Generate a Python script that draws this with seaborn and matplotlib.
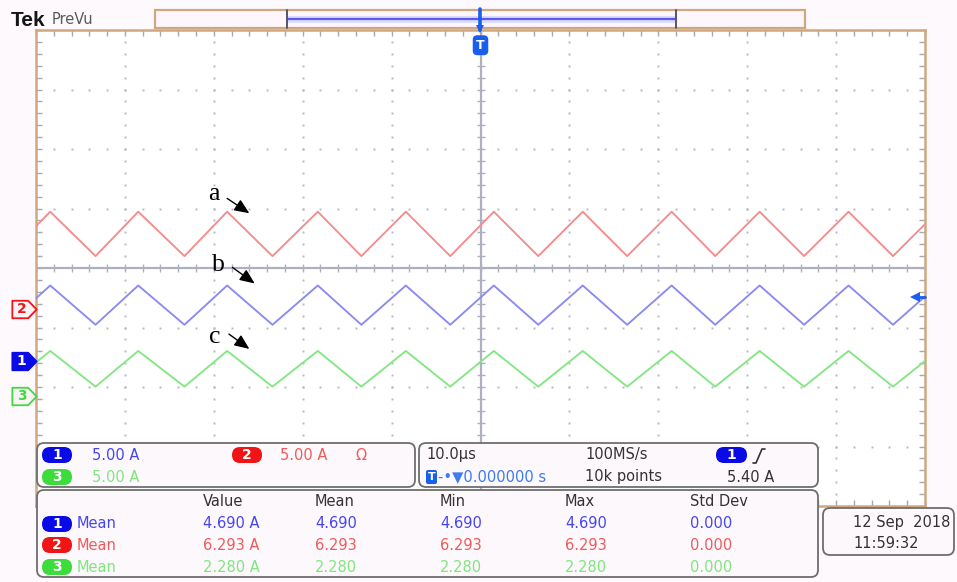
import numpy as np
import pandas as pd
import matplotlib
matplotlib.use("Agg")
import matplotlib.pyplot as plt
from matplotlib.patches import FancyBboxPatch, Rectangle
from matplotlib.path import Path
from matplotlib.markers import MarkerStyle
from matplotlib.lines import Line2D
from matplotlib.transforms import Affine2D
import seaborn as sns

# ---- captured waveforms: corner points of the triangular currents ----
t_vertex_us = [-53.3, -48.4, -43.3, -38.5, -33.3, -28.5, -23.4, -18.3, -13.4, -8.4, -3.4,
               1.5, 6.5, 11.5, 16.5, 21.5, 26.4, 31.4, 36.4, 41.4, 46.4, 51.4]
ch1_amps = [3.03, 6.33, 3.03, 6.33, 3.03, 6.33, 3.03, 6.33, 3.03, 6.33, 3.03,
            6.33, 3.03, 6.33, 3.03, 6.33, 3.03, 6.33, 3.03, 6.33, 3.03, 6.33]
ch2_amps = [4.45, 8.18, 4.45, 8.18, 4.45, 8.18, 4.45, 8.18, 4.45, 8.18, 4.45,
            8.18, 4.45, 8.18, 4.45, 8.18, 4.45, 8.18, 4.45, 8.18, 4.45, 8.18]
ch3_amps = [0.78, 3.78, 0.78, 3.78, 0.78, 3.78, 0.78, 3.78, 0.78, 3.78, 0.78,
            3.78, 0.78, 3.78, 0.78, 3.78, 0.78, 3.78, 0.78, 3.78, 0.78, 3.78]

# ---- vertical / horizontal settings ----
channels = ["1", "2", "3"]
ch_offset_div = [-1.56, -0.69, -2.15]      # ground marker positions
amps_per_div = [5.0, 5.0, 5.0]
scale_labels = ["5.00 A", "5.00 A", "5.00 A"]
time_per_div_label = "10.0\u00b5s"
sample_rate_label = "100MS/s"
record_label = "10k points"
trigger_pos_label = "0.000000 s"
trigger_level_amps = 5.40
trigger_level_label = "5.40 A"

# ---- measurement table ----
meas_headers = ["Value", "Mean", "Min", "Max", "Std Dev"]
meas_value = ["4.690 A", "6.293 A", "2.280 A"]
meas_mean = ["4.690", "6.293", "2.280"]
meas_min = ["4.690", "6.293", "2.280"]
meas_max = ["4.690", "6.293", "2.280"]
meas_std = ["0.000", "0.000", "0.000"]
date_label = "12 Sep  2018"
time_label = "11:59:32"

# ---- colours ----
trace_col = {"1": "#8a8af2", "2": "#f48c8c", "3": "#84e684"}
text_col = {"1": "#4646f0", "2": "#f05a5a", "3": "#7ee67e"}
pill_col = {"1": "#0a0ae6", "2": "#f01414", "3": "#3cdc3c"}
tek_blue = "#1a5ef0"
frame_col = "#cfa882"
grid_col = "#b8b8c0"
center_col = "#aeb0c2"
box_edge = "#6e6e6e"
box_fill = "#fdf8fc"
dark_txt = "#333333"

W, H = 957, 582
sns.set_theme(style="white")
plt.rcParams["font.family"] = ["DejaVu Sans"]

fig = plt.figure(figsize=(W / 100, H / 100), dpi=100, facecolor="#fdf9fc")
# pixel coordinates measured from the top-left corner of the figure
PX = Affine2D().scale(1 / W, -1 / H).translate(0, 1) + fig.transFigure

ax = fig.add_axes([36 / W, 1 - 506 / H, 889 / W, 476 / H])
ax.set_facecolor("white")

# ---- traces ----
frames = []
for ch, amps, off, apd in zip(channels, [ch1_amps, ch2_amps, ch3_amps], ch_offset_div, amps_per_div):
    frames.append(pd.DataFrame({
        "t": t_vertex_us,
        "level": [off + a / apd for a in amps],
        "channel": ch,
    }))
df = pd.concat(frames, ignore_index=True)
sns.lineplot(data=df, x="t", y="level", hue="channel", palette=trace_col,
             estimator=None, sort=False, legend=False, lw=1.35, ax=ax, zorder=5)

ax.set_xlim(-50, 50)
ax.set_ylim(-4, 4)
ax.set_xlabel("")
ax.set_ylabel("")

# ---- graticule ----
ax.set_xticks(np.arange(-50, 50.01, 2))
ax.set_yticks(np.arange(-4, 4.001, 0.2))
ax.tick_params(which="both", direction="in", length=4, width=1, color="#a8a8b0",
               top=True, right=True, bottom=True, left=True,
               labelbottom=False, labelleft=False)
for s in ax.spines.values():
    s.set_color(frame_col)
    s.set_linewidth(1.8)

gx, gy = [], []
for xd in np.arange(-40, 41, 10):
    if xd == 0:
        continue
    ys = np.arange(-4, 4.001, 0.2)
    gx.extend([xd] * len(ys))
    gy.extend(ys)
for yd in np.arange(-3, 4, 1):
    if yd == 0:
        continue
    xs = np.arange(-50, 50.01, 2)
    gx.extend(xs)
    gy.extend([yd] * len(xs))
ax.plot(gx, gy, ls="none", marker="s", ms=1.4, mew=0, color=grid_col, zorder=1)

ax.axhline(0, color=center_col, lw=1.6, zorder=2)
ax.axvline(0, color=center_col, lw=1.6, zorder=2)
cx = np.arange(-50, 50.01, 2)
ax.plot(cx, np.zeros_like(cx), ls="none", marker="|", ms=6, mew=1, color=center_col, zorder=2)
cy = np.arange(-4, 4.001, 0.2)
ax.plot(np.zeros_like(cy), cy, ls="none", marker="_", ms=6, mew=1, color=center_col, zorder=2)

# ---- trace labels ----
for lab, txt_xy, tail, head in [("a", (-30.0, 1.24), (-28.5, 1.17), (-26.0, 0.92)),
                                ("b", (-29.5, 0.05), (-27.9, 0.01), (-25.4, -0.26)),
                                ("c", (-29.9, -1.16), (-28.3, -1.11), (-26.0, -1.36))]:
    ax.text(*txt_xy, lab, family=["Liberation Serif", "DejaVu Serif"], fontsize=18.5,
            ha="center", va="center", color="black", zorder=7)
    ax.annotate("", xy=head, xytext=tail,
                arrowprops=dict(arrowstyle="-|>,head_length=0.75,head_width=0.32", color="black",
                                lw=1.0, mutation_scale=12, shrinkA=0, shrinkB=0), zorder=7)

# ---- ground markers on the left edge ----
penta = Path([(-1, -0.72), (0.3, -0.72), (1, 0), (0.3, 0.72), (-1, 0.72), (-1, -0.72)],
             [Path.MOVETO, Path.LINETO, Path.LINETO, Path.LINETO, Path.LINETO, Path.CLOSEPOLY])
ytr = ax.get_yaxis_transform()
for ch, off in zip(channels, ch_offset_div):
    filled = ch == "1"
    ax.plot([-0.0135], [off], marker=MarkerStyle(penta), ms=17.5, ls="none",
            mfc=pill_col[ch] if filled else "#fbf3f7", mec=pill_col[ch], mew=1.3,
            transform=ytr, clip_on=False, zorder=8)
    ax.text(-0.016, off, ch, transform=ytr, ha="center", va="center", fontsize=10,
            weight="bold", color="white" if filled else pill_col[ch], clip_on=False, zorder=9)

# trigger level arrow on the right edge
trig_y = ch_offset_div[0] + trigger_level_amps / amps_per_div[0]
ax.plot([0.9885, 1.0], [trig_y, trig_y], color=tek_blue, lw=2, transform=ytr, clip_on=False, zorder=8)
ax.plot([0.9885], [trig_y], marker="<", ms=7, color=tek_blue, mew=0, transform=ytr,
        clip_on=False, zorder=8)

# trigger position marker at the top
xtr = ax.get_xaxis_transform()
ax.text(0, 0.968, "T", transform=xtr, ha="center", va="center", fontsize=9, weight="bold",
        color="white", zorder=8,
        bbox=dict(boxstyle="round,pad=0.22,rounding_size=0.3", fc=tek_blue, ec=tek_blue))

# ---- top bar ----
fig.text(11, 20, "Tek", transform=PX, fontsize=15, weight="bold", color="#151515",
         ha="left", va="center", family=["Liberation Sans", "DejaVu Sans"])
fig.text(52, 20, "PreVu", transform=PX, fontsize=10.5, color="#5a5a5a", ha="left", va="center")
fig.add_artist(Rectangle((155, 10), 650, 18, transform=PX, fc="#fdf6fb", ec=frame_col, lw=1.6))
fig.add_artist(Rectangle((287, 15.5), 389, 7, transform=PX, fc="#dcdcff", ec="none"))
fig.add_artist(Line2D([287, 676], [19, 19], transform=PX, color="#5a5af0", lw=1.6))
for xx in (287, 676):
    fig.add_artist(Line2D([xx, xx], [10, 28], transform=PX, color="#555566", lw=1.4))
fig.add_artist(Line2D([480, 480], [9, 30], transform=PX, color=tek_blue, lw=2.6))
fig.add_artist(Line2D([480], [29], transform=PX, marker="v", ms=6, color=tek_blue, mew=0))


# ---- readout boxes ----
def box(x, y, w, h, r=7):
    fig.add_artist(FancyBboxPatch((x, y), w, h, boxstyle=f"round,pad=0,rounding_size={r}",
                                  transform=PX, fc=box_fill, ec=box_edge, lw=1.3, zorder=2))


def pill(x, y, ch, w=30, h=16):
    fig.add_artist(FancyBboxPatch((x, y - h / 2), w, h,
                                  boxstyle=f"round,pad=0,rounding_size={h / 2}",
                                  transform=PX, fc=pill_col[ch], ec="none", zorder=3))
    fig.text(x + w / 2, y, ch, transform=PX, ha="center", va="center", fontsize=10,
             weight="bold", color="white", zorder=4)


def label(x, y, s, color=dark_txt, size=10.5, ha="left"):
    fig.text(x, y, s, transform=PX, ha=ha, va="center", fontsize=size, color=color, zorder=4)


box(37, 443, 378, 44)
box(419, 443, 399, 44)
box(37, 490, 781, 87)
box(823, 508, 131, 47)

# channel scales
pill(42, 455, "1")
label(92, 455, scale_labels[0], text_col["1"])
pill(42, 477, "3")
label(92, 477, scale_labels[2], text_col["3"])
pill(232, 455, "2")
label(280, 455, scale_labels[1], text_col["2"])
label(356, 455, "\u03a9", text_col["2"])

# timebase and trigger
label(426, 455, time_per_div_label)
fig.add_artist(FancyBboxPatch((426, 470), 11, 14, boxstyle="round,pad=0,rounding_size=2",
                              transform=PX, fc=tek_blue, ec="none", zorder=3))
fig.text(431.5, 477, "T", transform=PX, ha="center", va="center", fontsize=8, weight="bold",
         color="white", zorder=4)
label(438, 477, "-\u2022\u25bc" + trigger_pos_label, "#3c7cf0")
label(585, 455, sample_rate_label)
label(585, 477, record_label)
pill(716, 455, "1", w=31)
fig.add_artist(Line2D([753, 756, 762, 765], [463, 463, 449, 449], transform=PX,
                      color=dark_txt, lw=1.2, zorder=4))
label(727, 477, trigger_level_label)

# measurement table
col_x = [203, 315, 440, 565, 690]
for cx_, hd in zip(col_x, meas_headers):
    label(cx_, 502, hd)
row_y = [524, 545, 567]
for i, ch in enumerate(channels):
    pill(42, row_y[i], ch)
    label(77, row_y[i], "Mean", text_col[ch])
    for cx_, vals in zip(col_x, [meas_value, meas_mean, meas_min, meas_max, meas_std]):
        label(cx_, row_y[i], vals[i], text_col[ch])

# acquisition date
label(853, 522, date_label)
label(853, 543, time_label)

fig.savefig("out.png", dpi=100, facecolor=fig.get_facecolor())
